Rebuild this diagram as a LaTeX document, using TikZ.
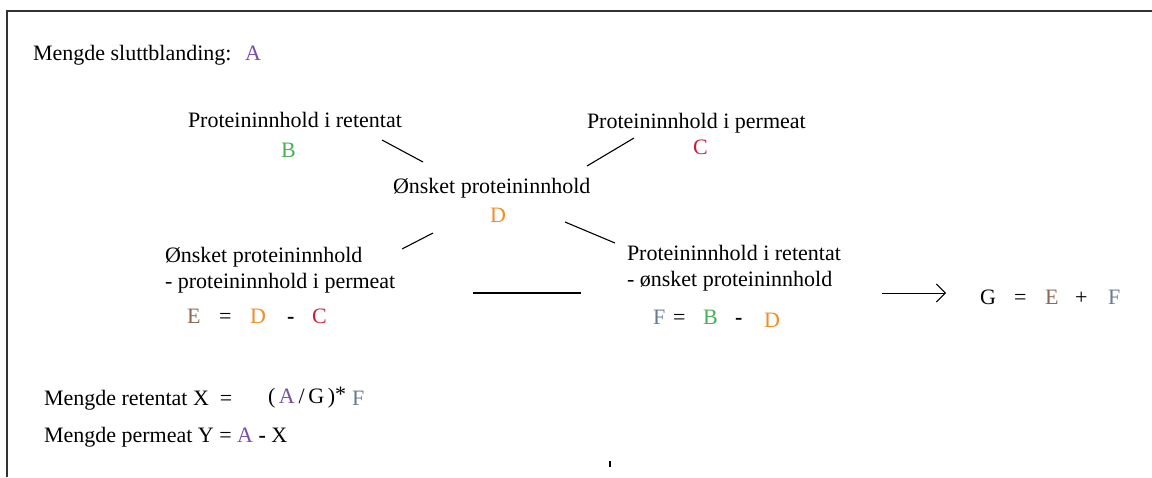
\documentclass[tikz,border=0pt]{standalone}
\usepackage{fontspec}
\setmainfont{Liberation Serif}
\usetikzlibrary{arrows.meta}
\definecolor{cA}{RGB}{120,78,168}
\definecolor{cB}{RGB}{72,176,88}
\definecolor{cC}{RGB}{204,28,60}
\definecolor{cD}{RGB}{240,142,40}
\definecolor{cE}{RGB}{140,104,84}
\definecolor{cF}{RGB}{104,122,150}
\definecolor{frameclr}{RGB}{50,50,50}
\begin{document}
\begin{tikzpicture}[x=1pt,y=-1pt,
  every node/.style={inner sep=0pt, outer sep=0pt, font=\fontsize{22}{26}\selectfont, anchor=base west},
  conn/.style={line width=1.1pt, black},
  framestyle/.style={line width=2pt, frameclr}]
\useasboundingbox (0,0) rectangle (1152,477);
\fill[white] (0,0) rectangle (1152,477);
\coordinate (fb) at (7,477);
\coordinate (fc) at (7,11);
\coordinate (fr) at (1152,11);
\draw[framestyle] (fb) -- (fc) -- (fr);

% top
\node (total) at (33,60) {Mengde sluttblanding:};
\node[text=cA] (A) at (245,60) {A};

\node (pr) at (188,127) {Proteininnhold i retentat};
\node[text=cB] (B) at (281,157) {B};
\node (pp) at (587,128) {Proteininnhold i permeat};
\node[text=cC] (C) at (693,154) {C};
\node (op) at (393,193) {Ønsket proteininnhold};
\node[text=cD] (D) at (490,222) {D};

% connectors
\coordinate (l1a) at (382,140); \coordinate (l1b) at (423,162);
\coordinate (l2a) at (587,166); \coordinate (l2b) at (634,138);
\coordinate (l3a) at (402,249); \coordinate (l3b) at (433,233);
\coordinate (l4a) at (565,222); \coordinate (l4b) at (615,243);
\coordinate (l5a) at (473,293); \coordinate (l5b) at (581,293);
\coordinate (arA) at (882,293); \coordinate (arB) at (946,293);
\draw[conn] (l1a) -- (l1b);
\draw[conn] (l2a) -- (l2b);
\draw[conn] (l3a) -- (l3b);
\draw[conn] (l4a) -- (l4b);
\draw[conn] (l5a) -- (l5b);
\draw[line width=0.9pt, black,-{Straight Barb[length=9pt,width=18pt]}] (arA) -- (arB);

% lower left
\node (el1) at (165,262) {Ønsket proteininnhold};
\node (el2) at (165,288) {- proteininnhold i permeat};
\node[text=cE] (E1) at (187,323) {E};
\node (eq1) at (219,323) {=};
\node[text=cD] (D1) at (250,323) {D};
\node (m1) at (287,323) {\textbf{-}};
\node[text=cC] (C1) at (312,323) {C};

% lower right
\node (fl1) at (627,260) {Proteininnhold i retentat};
\node (fl2) at (627,286) {- ønsket proteininnhold};
\node[text=cF] (F1) at (653,324) {F};
\node (eq2) at (673,324) {=};
\node[text=cB] (B1) at (703,324) {B};
\node (m2) at (735,324) {\textbf{-}};
\node[text=cD] (D2) at (764,327) {D};

% G
\node (G) at (980,304) {G};
\node (eq3) at (1014,304) {=};
\node[text=cE] (E2) at (1045,304) {E};
\node (plus) at (1075,304) {+};
\node[text=cF] (F2) at (1108,304) {F};

% bottom
\node (ret) at (44,405) {Mengde retentat X \ =};
\node (frac) at (268,403) {(\,\textcolor{cA}{A}\,/\,G\,)\raisebox{2pt}{*}};
\node[text=cF] (F3) at (352,405) {F};
\node (perm) at (44,442) {Mengde permeat Y = \textcolor{cA}{A} \textbf{-} X};

\coordinate (tk1) at (610,461); \coordinate (tk2) at (610,467);
\draw[line width=1.5pt, black] (tk1) -- (tk2);
\end{tikzpicture}
\end{document}
